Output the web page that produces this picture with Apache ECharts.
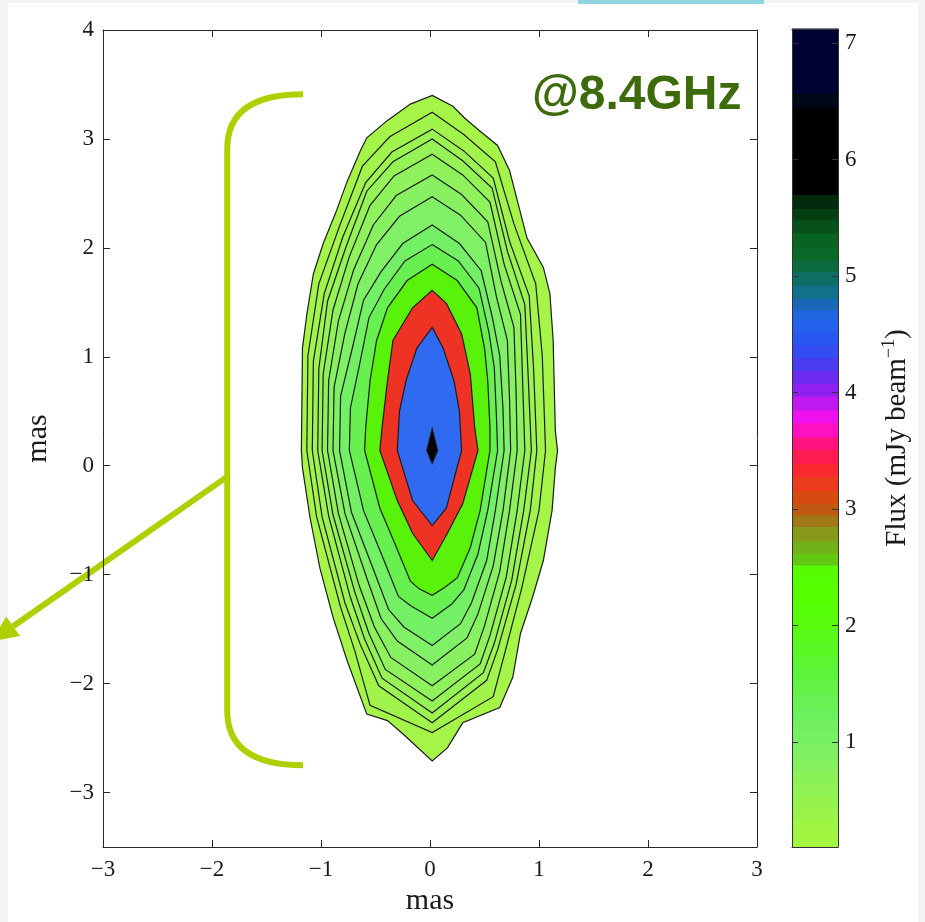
<!DOCTYPE html>
<html><head><meta charset="utf-8">
<script src="https://cdn.jsdelivr.net/npm/echarts@6/dist/echarts.min.js"></script>
<style>html,body{margin:0;padding:0;background:#f3f3f3}#c{width:925px;height:922px}</style>
</head><body><div id="c"></div><script>
// ---- axis ticks ----
const xTicks = [-3, -2, -1, 0, 1, 2, 3];
const yTicks = [-3, -2, -1, 0, 1, 2, 3, 4];
const cbTicks = [1, 2, 3, 4, 5, 6, 7];

// ---- contour levels (mJy/beam), outer to inner ----
const levels = [0.1, 0.14, 0.2, 0.28, 0.4, 0.57, 0.8, 1.13, 1.6, 2.26, 3.2, 4.53, 6.4];
const bandColors = ['#a4f548','#a0f44c','#9bf451','#95f357','#8ff25c','#88f162','#80f066','#74f066','#68f050','#58f20a','#ee3324','#2f6af0','#000000'];

// ---- contour polygons [x(mas), y(mas)] ----
const contour01 = [[0.02,3.40],[0.21,3.30],[0.32,3.19],[0.46,3.07],[0.62,2.94],[0.73,2.71],[0.81,2.40],[0.89,2.09],[1.04,1.82],[1.10,1.58],[1.13,1.15],[1.15,0.32],[1.17,0.14],[1.15,-0.02],[1.12,-0.41],[1.04,-0.87],[0.94,-1.21],[0.83,-1.54],[0.76,-1.94],[0.64,-2.22],[0.30,-2.36],[0.16,-2.59],[0.02,-2.71],[-0.25,-2.46],[-0.39,-2.34],[-0.58,-2.28],[-0.76,-1.79],[-0.89,-1.39],[-1.01,-0.94],[-1.10,-0.48],[-1.17,-0.02],[-1.18,0.14],[-1.17,1.08],[-1.13,1.39],[-1.07,1.76],[-0.98,2.04],[-0.87,2.31],[-0.76,2.61],[-0.64,2.89],[-0.58,3.01],[-0.39,3.17],[-0.18,3.32]];
const contour02 = [[0.02,3.245],[0.31,3.04],[0.60,2.79],[0.77,2.22],[0.97,1.67],[1.03,1.01],[1.06,0.14],[1.00,-0.41],[0.84,-1.13],[0.67,-1.78],[0.58,-2.12],[0.02,-2.45],[-0.55,-2.20],[-0.69,-1.70],[-0.82,-1.30],[-1.04,-0.47],[-1.13,0.14],[-1.12,1.01],[-1.02,1.67],[-0.83,2.20],[-0.62,2.75],[-0.37,3.02]];
const contour03 = [[0.02,3.09],[0.31,2.89],[0.58,2.64],[0.73,2.06],[0.91,1.56],[0.95,0.90],[0.98,0.14],[0.92,-0.41],[0.79,-1.09],[0.62,-1.69],[0.52,-1.97],[0.02,-2.36],[-0.47,-2.02],[-0.64,-1.64],[-0.78,-1.26],[-0.99,-0.47],[-1.08,0.14],[-1.07,0.96],[-0.97,1.58],[-0.80,2.10],[-0.59,2.60],[-0.35,2.88]];
const contour04 = [[0.02,3.00],[0.30,2.80],[0.57,2.55],[0.71,1.97],[0.87,1.48],[0.90,0.84],[0.93,0.14],[0.86,-0.41],[0.75,-1.05],[0.59,-1.63],[0.49,-1.90],[0.02,-2.27],[-0.44,-1.95],[-0.60,-1.59],[-0.73,-1.21],[-0.93,-0.46],[-1.03,0.14],[-1.02,0.89],[-0.94,1.51],[-0.77,2.01],[-0.58,2.52],[-0.34,2.79]];
const contour05 = [[0.02,2.86],[0.30,2.67],[0.55,2.42],[0.68,1.85],[0.83,1.39],[0.85,0.77],[0.87,0.14],[0.80,-0.41],[0.70,-1.02],[0.55,-1.56],[0.46,-1.82],[0.02,-2.16],[-0.41,-1.87],[-0.56,-1.54],[-0.69,-1.16],[-0.89,-0.45],[-0.99,0.14],[-0.98,0.84],[-0.89,1.43],[-0.74,1.92],[-0.55,2.39],[-0.33,2.66]];
const contour06 = [[0.02,2.67],[0.29,2.49],[0.53,2.24],[0.65,1.70],[0.77,1.27],[0.79,0.68],[0.80,0.14],[0.73,-0.41],[0.64,-0.97],[0.50,-1.47],[0.41,-1.73],[0.02,-2.02],[-0.36,-1.76],[-0.51,-1.48],[-0.65,-1.10],[-0.84,-0.44],[-0.94,0.14],[-0.93,0.78],[-0.84,1.33],[-0.70,1.80],[-0.52,2.21],[-0.31,2.48]];
const contour07 = [[0.02,2.47],[0.28,2.30],[0.51,2.05],[0.61,1.55],[0.71,1.15],[0.73,0.60],[0.74,0.14],[0.67,-0.41],[0.58,-0.92],[0.44,-1.36],[0.34,-1.58],[0.02,-1.83],[-0.30,-1.61],[-0.45,-1.40],[-0.58,-1.03],[-0.78,-0.44],[-0.89,0.14],[-0.88,0.72],[-0.78,1.22],[-0.66,1.67],[-0.49,2.03],[-0.28,2.29]];
const contour08 = [[0.02,2.21],[0.27,2.04],[0.47,1.79],[0.57,1.37],[0.64,1.01],[0.67,0.52],[0.68,0.14],[0.60,-0.41],[0.52,-0.87],[0.38,-1.26],[0.28,-1.45],[0.02,-1.65],[-0.24,-1.48],[-0.38,-1.32],[-0.52,-0.95],[-0.72,-0.43],[-0.83,0.14],[-0.82,0.64],[-0.71,1.09],[-0.61,1.52],[-0.45,1.78],[-0.25,2.04]];
const contour09 = [[0.02,2.03],[0.26,1.88],[0.45,1.63],[0.54,1.23],[0.59,0.90],[0.61,0.44],[0.62,0.14],[0.53,-0.41],[0.44,-0.81],[0.31,-1.14],[0.20,-1.27],[0.02,-1.40],[-0.17,-1.29],[-0.29,-1.20],[-0.43,-0.85],[-0.61,-0.41],[-0.74,0.14],[-0.73,0.53],[-0.64,0.96],[-0.56,1.36],[-0.42,1.62],[-0.23,1.88]];
const contour10 = [[0.02,1.85],[0.25,1.70],[0.43,1.45],[0.50,1.08],[0.53,0.78],[0.55,0.35],[0.55,0.14],[0.46,-0.41],[0.37,-0.75],[0.25,-1.03],[0.13,-1.12],[0.02,-1.19],[-0.10,-1.13],[-0.18,-1.06],[-0.32,-0.72],[-0.46,-0.39],[-0.60,0.14],[-0.59,0.35],[-0.55,0.78],[-0.49,1.15],[-0.39,1.45],[-0.21,1.70]];
const contour11 = [[0.02,1.61],[0.15,1.49],[0.29,1.21],[0.37,0.84],[0.41,0.35],[0.44,0.14],[0.30,-0.35],[0.16,-0.62],[0.02,-0.87],[-0.16,-0.62],[-0.30,-0.32],[-0.46,0.14],[-0.44,0.35],[-0.39,0.78],[-0.34,1.15],[-0.16,1.45]];
const contour12 = [[0.02,1.27],[0.12,1.08],[0.22,0.78],[0.27,0.50],[0.29,0.14],[0.15,-0.39],[0.02,-0.55],[-0.16,-0.32],[-0.30,0.14],[-0.28,0.50],[-0.22,0.78],[-0.12,1.08]];
const contour13 = [[0.02,0.34],[0.07,0.14],[0.02,0.02],[-0.03,0.14]];
const contours = [contour01,contour02,contour03,contour04,contour05,contour06,contour07,contour08,contour09,contour10,contour11,contour12,contour13];

// ---- colour bar: lower edge of each colour step and its colour ----
const cbMin = 0.1, cbMax = 7.12;
const cbLow = [0.10,0.21,0.32,0.43,0.54,0.65,0.76,0.87,0.98,1.09,1.20,1.31,1.42,1.53,1.64,1.75,1.86,1.97,2.08,2.19,2.30,2.41,2.52,2.62,2.73,2.85,2.95,3.05,3.16,3.28,3.39,3.51,3.62,3.74,3.85,3.97,4.08,4.19,4.30,4.41,4.52,4.62,4.71,4.81,4.92,5.04,5.14,5.25,5.37,5.48,5.58,5.70,6.45,6.57];
const cbColors = ['#a3f540','#9ff444','#9af348','#95f24d','#90f253','#8af158','#84f05d','#7ef062','#78f064','#72f062','#6cf05c','#67f153','#63f248','#5ff43c','#5cf630','#59f824','#57fa18','#56fc0c','#55fe04','#55ff00','#55ff00','#56fc00','#62c812','#72b018','#889818','#a07818','#c05a12','#d84a10','#ec3a1c','#fa2a30','#ff1c50','#ff1480','#ff10c0','#ee10ee','#c018f0','#9020f0','#6a2cf0','#4a3cf0','#344cf0','#2858f0','#2462ee','#2066e0','#1a66b8','#127088','#0e6e64','#0c6a40','#0a6828','#086420','#06521a','#044012','#032a0c','#000000','#000818','#000033'];

// ---- annotation (bracket + arrow), in mas ----
const bracketX = -1.86, bracketEndX = -1.165, bracketTop = 3.41, bracketBottom = -2.75, bracketBend = 0.5;
const arrowFrom = [-1.86, -0.10], arrowTo = [-4.02, -1.61];

const fmt = v => String(v).replace('-', '\u2212');
const serif = 'Liberation Serif';
const axisCol = '#262626';

const chart = echarts.init(document.getElementById('c'), null, {renderer: 'canvas'});

function renderContour(params, api) {
  const i = api.value(0);
  const pts = contours[i].map(p => api.coord(p));
  return {type: 'polygon', shape: {points: pts},
    style: {fill: bandColors[i], stroke: '#1c1c1c', lineWidth: 1.2}};
}
function renderBar(params, api) {
  const i = api.value(0);
  const lo = cbLow[i], hi = i < cbLow.length - 1 ? cbLow[i + 1] : cbMax;
  const a = api.coord([0, hi]), b = api.coord([1, lo]);
  return {type: 'rect', shape: {x: a[0], y: a[1] - 0.5, width: b[0] - a[0], height: b[1] - a[1] + 1},
    style: {fill: cbColors[i]}};
}
function renderAnnot(params, api) {
  const t1 = api.coord([bracketEndX, bracketTop]);
  const c1 = api.coord([bracketX, bracketTop]);
  const v1 = api.coord([bracketX, bracketTop - bracketBend]);
  const v2 = api.coord([bracketX, bracketBottom + bracketBend]);
  const c2 = api.coord([bracketX, bracketBottom]);
  const t2 = api.coord([bracketEndX, bracketBottom]);
  const p0 = api.coord(arrowFrom), p1 = api.coord(arrowTo);
  const dx = p1[0] - p0[0], dy = p1[1] - p0[1], L = Math.hypot(dx, dy);
  const ux = dx / L, uy = dy / L, hl = 26, hw = 12;
  const bx = p1[0] - ux * hl, by = p1[1] - uy * hl;
  const col = '#afd000';
  return {type: 'group', children: [
    {type: 'path', shape: {pathData:
      `M${t1[0]},${t1[1]} Q${c1[0]},${c1[1]} ${v1[0]},${v1[1]} L${v2[0]},${v2[1]} Q${c2[0]},${c2[1]} ${t2[0]},${t2[1]}`},
      style: {fill: 'none', stroke: col, lineWidth: 6}},
    {type: 'line', shape: {x1: p0[0], y1: p0[1], x2: bx, y2: by}, style: {stroke: col, lineWidth: 6}},
    {type: 'polygon', shape: {points: [[p1[0], p1[1]], [bx - uy * hw, by + ux * hw], [bx + uy * hw, by - ux * hw]]},
      style: {fill: col}}
  ]};
}

const tickStyle = {inside: true, length: 7, lineStyle: {color: axisCol, width: 1}};
const lineStyle = {show: true, onZero: false, lineStyle: {color: axisCol, width: 1}};
const cbLine = {show: true, onZero: false, lineStyle: {color: '#333', width: 1}};

chart.setOption({
  animation: false,
  backgroundColor: '#f3f3f3',
  graphic: [
    {type: 'rect', z: -100, shape: {x: 8, y: 3, width: 910, height: 919}, style: {fill: '#ffffff'}},
    {type: 'rect', z: -100, shape: {x: 578, y: 0, width: 186, height: 4}, style: {fill: '#8ed6e0'}}
  ],
  title: {text: '@8.4GHz', left: 527, top: 67,
    textStyle: {fontFamily: 'Liberation Sans', fontWeight: 'bold', fontSize: 48, color: '#3d6b0b'}},
  grid: [
    {left: 103, top: 30, width: 654, height: 817},
    {left: 792, top: 29, width: 46, height: 818}
  ],
  xAxis: [
    {gridIndex: 0, type: 'value', min: -3, max: 3, interval: 1, position: 'bottom', z: 10,
      axisLine: lineStyle, axisTick: tickStyle, splitLine: {show: false},
      axisLabel: {fontFamily: serif, fontSize: 23, color: '#1a1a1a', margin: 11, formatter: fmt},
      name: 'mas', nameLocation: 'middle', nameGap: 38,
      nameTextStyle: {fontFamily: serif, fontSize: 30, color: '#1a1a1a'}},
    {gridIndex: 0, type: 'value', min: -3, max: 3, interval: 1, position: 'top', z: 10,
      axisLine: lineStyle, axisTick: tickStyle, splitLine: {show: false}, axisLabel: {show: false}},
    {gridIndex: 1, type: 'value', min: 0, max: 1, position: 'bottom', z: 10,
      axisLine: cbLine, axisTick: {show: false}, axisLabel: {show: false}, splitLine: {show: false}},
    {gridIndex: 1, type: 'value', min: 0, max: 1, position: 'top', z: 10,
      axisLine: cbLine, axisTick: {show: false}, axisLabel: {show: false}, splitLine: {show: false}}
  ],
  yAxis: [
    {gridIndex: 0, type: 'value', min: -3.5, max: 4, position: 'left', z: 10,
      axisLine: lineStyle, axisTick: Object.assign({customValues: yTicks}, tickStyle), splitLine: {show: false},
      axisLabel: {customValues: yTicks, fontFamily: serif, fontSize: 23, color: '#1a1a1a', margin: 9, formatter: fmt},
      name: 'mas', nameLocation: 'middle', nameGap: 50, nameRotate: 90,
      nameTextStyle: {fontFamily: serif, fontSize: 30, color: '#1a1a1a'}},
    {gridIndex: 0, type: 'value', min: -3.5, max: 4, position: 'right', z: 10,
      axisLine: lineStyle, axisTick: Object.assign({customValues: yTicks}, tickStyle), splitLine: {show: false},
      axisLabel: {show: false}},
    {gridIndex: 1, type: 'value', min: cbMin, max: cbMax, position: 'right', z: 10,
      axisLine: cbLine,
      axisTick: {inside: true, length: 6, customValues: cbTicks, lineStyle: {color: '#333'}}, splitLine: {show: false},
      axisLabel: {customValues: cbTicks, fontFamily: serif, fontSize: 23, color: '#1a1a1a', margin: 7},
      name: 'Flux (mJy beam{sup|\u22121})', nameLocation: 'middle', nameGap: 42, nameRotate: 90,
      nameTextStyle: {fontFamily: serif, fontSize: 29, color: '#1a1a1a', lineHeight: 34,
        rich: {sup: {fontFamily: serif, fontSize: 18, color: '#1a1a1a', lineHeight: 16, verticalAlign: 'top'}}}},
    {gridIndex: 1, type: 'value', min: cbMin, max: cbMax, position: 'left', z: 10,
      axisLine: cbLine,
      axisTick: {inside: true, length: 6, customValues: cbTicks, lineStyle: {color: '#333'}}, splitLine: {show: false},
      axisLabel: {show: false}}
  ],
  series: [
    {type: 'custom', name: 'contours', xAxisIndex: 0, yAxisIndex: 0, clip: false,
      data: contours.map((c, i) => [i, levels[i]]), renderItem: renderContour, z: 2},
    {type: 'custom', name: 'colorbar', xAxisIndex: 2, yAxisIndex: 2,
      data: cbLow.map((v, i) => [i, v]), renderItem: renderBar, z: 2},
    {type: 'custom', name: 'annotation', xAxisIndex: 0, yAxisIndex: 0, clip: false,
      data: [[0, 0]], renderItem: renderAnnot, z: 5}
  ]
});
</script></body></html>
